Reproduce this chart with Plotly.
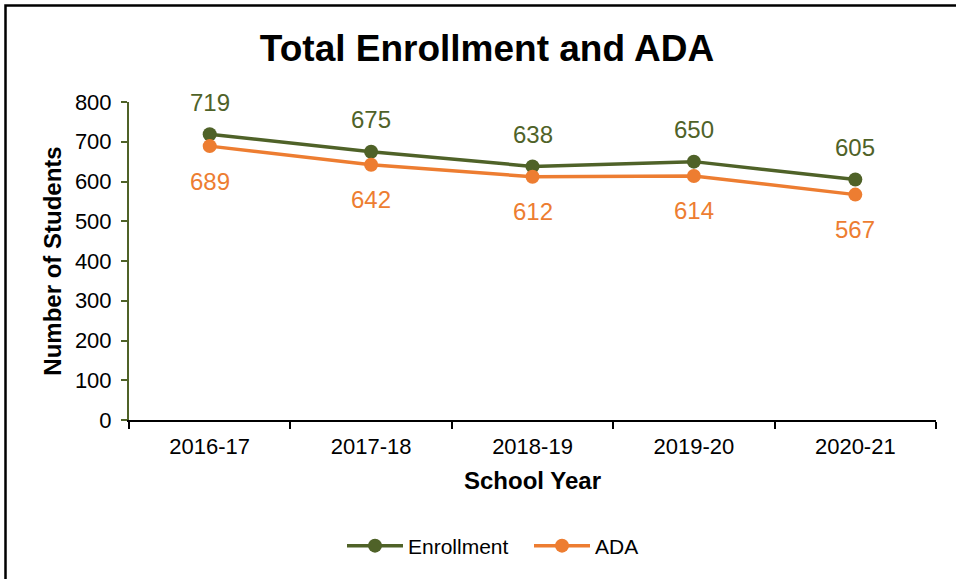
import plotly.graph_objects as go

years = ["2016-17", "2017-18", "2018-19", "2019-20", "2020-21"]
enrollment = [719, 675, 638, 650, 605]
ada = [689, 642, 612, 614, 567]
y_ticks = [0, 100, 200, 300, 400, 500, 600, 700, 800]

OLIVE = "#4F6228"
ORANGE = "#ED7D31"
FONT = "Liberation Sans, Arial, sans-serif"

W, H = 956, 579
ML, MR, MT, MB = 129, 20, 102, 159
PW = W - ML - MR
PH = H - MT - MB

fig = go.Figure()
fig.add_trace(go.Scatter(x=years, y=enrollment, name="Enrollment", mode="lines+markers",
                         line=dict(color=OLIVE, width=3.5), marker=dict(size=14, color=OLIVE)))
fig.add_trace(go.Scatter(x=years, y=ada, name="ADA", mode="lines+markers",
                         line=dict(color=ORANGE, width=3.5), marker=dict(size=14, color=ORANGE)))

anns = []
for x, v in zip(years, enrollment):
    anns.append(dict(x=x, y=v, text=str(v), showarrow=False, yshift=32,
                     font=dict(size=24, color=OLIVE, family=FONT)))
for x, v in zip(years, ada):
    anns.append(dict(x=x, y=v, text=str(v), showarrow=False, yshift=-35,
                     font=dict(size=24, color=ORANGE, family=FONT)))

# outer border (extends past right/bottom edge like the reference)
px = lambda p: (p - ML) / PW
py = lambda p: (H - MB - p) / PH
shapes = [dict(type="rect", xref="paper", yref="paper",
               x0=px(5.5), x1=px(975), y0=py(5.5), y1=py(600),
               line=dict(color="black", width=2.5), fillcolor="rgba(0,0,0,0)", layer="below")]

fig.update_layout(
    width=W, height=H,
    margin=dict(l=ML, r=MR, t=MT, b=MB),
    paper_bgcolor="white", plot_bgcolor="white",
    font=dict(family=FONT, color="black", size=22),
    title=dict(text="<b>Total Enrollment and ADA</b>", x=487 / W, xanchor="center",
               y=1 - 48 / H, yanchor="middle", font=dict(size=37, family=FONT, color="black")),
    showlegend=True,
    legend=dict(orientation="h", xref="container", yref="container", x=529 / W, xanchor="center",
                y=1 - 546 / H, yanchor="middle", font=dict(size=21, family=FONT), itemwidth=56,
                entrywidth=116, entrywidthmode="pixels",
                bgcolor="rgba(0,0,0,0)"),
    annotations=anns,
    shapes=shapes,
    xaxis=dict(type="category", range=[-0.5, 4.5], showgrid=False, showline=True,
               linecolor="black", linewidth=2, ticks="outside", tickson="boundaries",
               ticklen=7, tickwidth=2, tickcolor="black", tickfont=dict(size=22),
               ticklabelstandoff=6,
               title=dict(text="<b>School Year</b>", font=dict(size=24), standoff=14),
               zeroline=False),
    yaxis=dict(range=[0, 800], tickvals=y_ticks, showgrid=False, showline=True,
               linecolor=OLIVE, linewidth=2, ticks="outside", ticklen=6, tickwidth=2,
               tickcolor=OLIVE, tickfont=dict(size=22), ticklabelstandoff=5,
               title=dict(text="<b>Number of Students</b>", font=dict(size=24), standoff=6),
               zeroline=False),
)

fig.write_html("out.html", config={"displayModeBar": False},
               post_script="document.body.style.margin='0px';")
